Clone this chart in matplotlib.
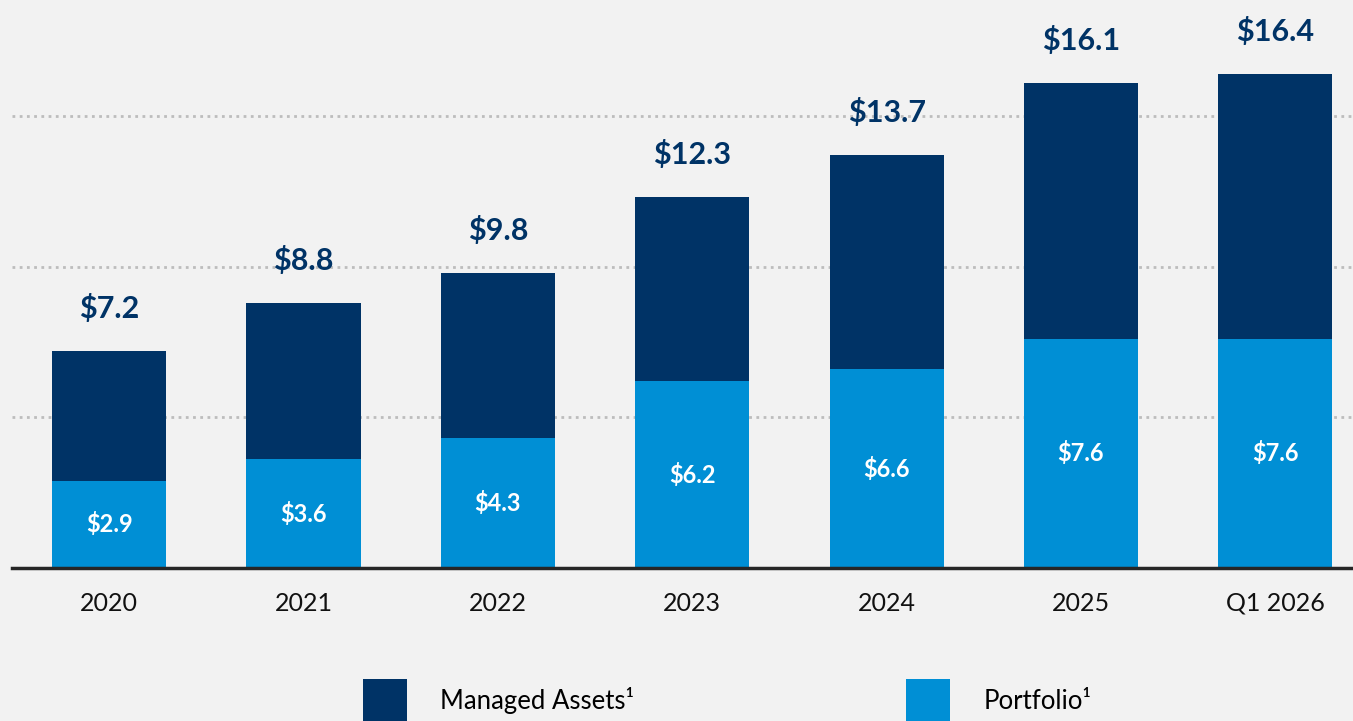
import matplotlib

matplotlib.use("Agg")

import matplotlib.pyplot as plt
import numpy as np
from matplotlib.patches import Patch

categories = ["2020", "2021", "2022", "2023", "2024", "2025", "Q1 2026"]
portfolio = [2.9, 3.6, 4.3, 6.2, 6.6, 7.6, 7.6]
totals = [7.2, 8.8, 9.8, 12.3, 13.7, 16.1, 16.4]
managed = [t - p for t, p in zip(totals, portfolio)]

NAVY = "#003366"
BLUE = "#008FD5"
BG = "#F2F2F2"

plt.rcParams["font.family"] = ["Lato", "DejaVu Sans"]


def main() -> int:
    fig = plt.figure(figsize=(13.53, 7.21), dpi=100, facecolor=BG)
    ax = fig.add_axes([12 / 1353, 153 / 721, 1 - 12 / 1353, 568 / 721])
    ax.set_facecolor(BG)

    x = np.arange(len(categories))
    w = 0.587
    ax.bar(x, portfolio, width=w, color=BLUE, zorder=3)
    ax.bar(x, managed, width=w, bottom=portfolio, color=NAVY, zorder=3)

    for xi, p, t in zip(x, portfolio, totals):
        ax.annotate(f"\\${t:.1f}", (xi, t), xytext=(0, 28), textcoords="offset pixels",
                    ha="center", va="bottom", fontsize=22, fontweight="bold", color=NAVY)
        ax.text(xi, p / 2, f"\\${p:.1f}", ha="center", va="center",
                fontsize=17, fontweight="bold", color="white", zorder=4)

    ax.set_xlim(-0.5, 6.4)
    ax.set_ylim(0, 18.84)
    ax.set_yticks([5, 10, 15])
    ax.yaxis.grid(True, linestyle=(0, (1, 1.6)), color="#BDBDBD", linewidth=2, zorder=0)
    ax.tick_params(axis="y", left=False, labelleft=False)
    ax.set_xticks(x, categories)
    ax.tick_params(axis="x", length=0, pad=17, labelsize=18, labelcolor="#111111")
    for s in ("top", "right", "left"):
        ax.spines[s].set_visible(False)
    ax.spines["bottom"].set_color("#262626")
    ax.spines["bottom"].set_linewidth(2.5)
    ax.spines["bottom"].set_zorder(5)

    handles = [Patch(facecolor=NAVY, label="Managed Assets¹"),
               Patch(facecolor=BLUE, label="Portfolio¹")]
    fig.legend(handles=handles, loc="upper left", bbox_to_anchor=(363 / 1353, 1 - 679 / 721),
               ncol=2, frameon=False, fontsize=18.5, handlelength=1.71, handleheight=2.3,
               handletextpad=1.28, columnspacing=10.6, borderpad=0, borderaxespad=0)

    fig.savefig("out.png", dpi=100, facecolor=BG)
    plt.close("all")
    return 0


if __name__ == "__main__":
    raise SystemExit(main())
